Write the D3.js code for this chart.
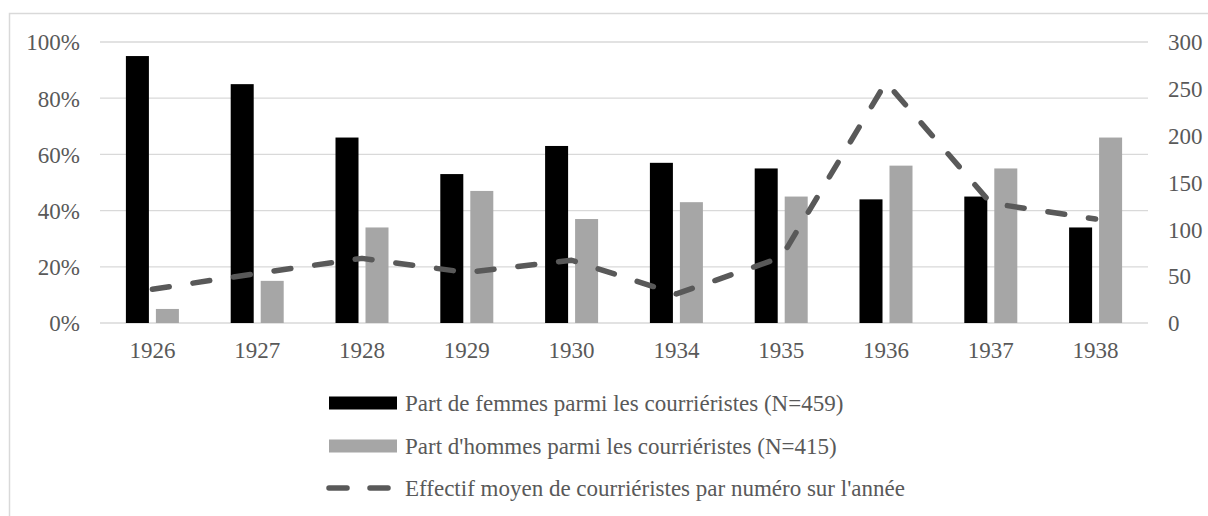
<!DOCTYPE html>
<html>
<head>
<meta charset="utf-8">
<script src="https://cdn.jsdelivr.net/npm/d3@7"></script>
<style>
  html, body { margin: 0; padding: 0; background: #fff; }
  svg { display: block; }
</style>
</head>
<body>
<svg id="chart" width="1208" height="516"></svg>
<script>
const years = ['1926', '1927', '1928', '1929', '1930', '1934', '1935', '1936', '1937', '1938'];
const femmes = [95, 85, 66, 53, 63, 57, 55, 44, 45, 34];
const hommes = [5, 15, 34, 47, 37, 43, 45, 56, 55, 66];
const effectif = [36, 53, 69, 54, 67, 31, 70, 257, 128, 111];
const leftTicks = [0, 20, 40, 60, 80, 100];
const rightTicks = [0, 50, 100, 150, 200, 250, 300];
const seriesNames = [
    'Part de femmes parmi les courriéristes (N=459)',
    'Part d\'hommes parmi les courriéristes (N=415)',
    'Effectif moyen de courriéristes par numéro sur l\'année'
];

const plot = { left: 100, right: 1148, top: 42, bottom: 323 };
const fontSize = 23;
const fontFamily = '"Liberation Serif", "DejaVu Serif", serif';
const textColor = '#595959';

const svg = d3.select('#chart')
    .attr('font-family', fontFamily);

// outer frame of the chart area
svg.append('rect')
    .attr('x', 9.5)
    .attr('y', 13.5)
    .attr('width', 1220)
    .attr('height', 520)
    .attr('fill', 'none')
    .attr('stroke', '#d9d9d9')
    .attr('stroke-width', 1.5);

const x = d3.scaleBand()
    .domain(years)
    .range([plot.left, plot.right]);

const groupWidth = 53;
const xInner = d3.scaleBand()
    .domain(['f', 'h'])
    .range([0, groupWidth])
    .paddingInner(0.233);

const yLeft = d3.scaleLinear().domain([0, 100]).range([plot.bottom, plot.top]);
const yRight = d3.scaleLinear().domain([0, 300]).range([plot.bottom, plot.top]);

// gridlines
svg.append('g')
    .attr('class', 'grid')
    .selectAll('line')
    .data(leftTicks)
    .join('line')
    .attr('x1', plot.left)
    .attr('x2', plot.right)
    .attr('y1', d => yLeft(d))
    .attr('y2', d => yLeft(d))
    .attr('stroke', '#d9d9d9')
    .attr('stroke-width', 1.3);

function styleAxis(g) {
    g.attr('font-family', fontFamily).attr('font-size', fontSize);
    g.select('.domain').remove();
    g.selectAll('text')
        .attr('fill', textColor)
        .attr('dy', '0.34em');
}

// left axis (percent)
svg.append('g')
    .attr('transform', 'translate(80,0)')
    .call(d3.axisLeft(yLeft)
        .tickValues(leftTicks)
        .tickFormat(d => `${d}%`)
        .tickSize(0)
        .tickPadding(0))
    .call(styleAxis);

// right axis (effectif)
svg.append('g')
    .attr('transform', 'translate(1168,0)')
    .call(d3.axisRight(yRight)
        .tickValues(rightTicks)
        .tickSize(0)
        .tickPadding(0))
    .call(styleAxis);

// bottom axis (years)
svg.append('g')
    .attr('transform', `translate(0,${plot.bottom + 27})`)
    .call(d3.axisBottom(x).tickSize(0).tickPadding(0))
    .call(styleAxis);

// bars
const groups = svg.append('g')
    .attr('class', 'bars')
    .selectAll('g')
    .data(years)
    .join('g')
    .attr('transform', d => `translate(${x(d) + (x.bandwidth() - groupWidth) / 2},0)`);

groups.append('rect')
    .attr('x', xInner('f'))
    .attr('width', xInner.bandwidth())
    .attr('y', (d, i) => yLeft(femmes[i]))
    .attr('height', (d, i) => yLeft(0) - yLeft(femmes[i]))
    .attr('fill', '#000');

groups.append('rect')
    .attr('x', xInner('h'))
    .attr('width', xInner.bandwidth())
    .attr('y', (d, i) => yLeft(hommes[i]))
    .attr('height', (d, i) => yLeft(0) - yLeft(hommes[i]))
    .attr('fill', '#a6a6a6');

// dashed line on the right axis
const line = d3.line()
    .x((d, i) => x(years[i]) + x.bandwidth() / 2)
    .y(d => yRight(d));

svg.append('path')
    .datum(effectif)
    .attr('d', line)
    .attr('fill', 'none')
    .attr('stroke', '#595959')
    .attr('stroke-width', 5.5)
    .attr('stroke-linecap', 'round')
    .attr('stroke-linejoin', 'round')
    .attr('stroke-dasharray', '17,24');

// legend
const legend = svg.append('g').attr('class', 'legend');
const rowY = [403, 446, 488];

legend.append('rect')
    .attr('x', 329).attr('y', rowY[0] - 6.5)
    .attr('width', 68).attr('height', 13)
    .attr('fill', '#000');
legend.append('rect')
    .attr('x', 329).attr('y', rowY[1] - 6.5)
    .attr('width', 68).attr('height', 13)
    .attr('fill', '#a6a6a6');
legend.append('line')
    .attr('x1', 329).attr('x2', 389)
    .attr('y1', rowY[2]).attr('y2', rowY[2])
    .attr('stroke', '#595959')
    .attr('stroke-width', 5.5)
    .attr('stroke-linecap', 'round')
    .attr('stroke-dasharray', '18,23');

legend.selectAll('text')
    .data(seriesNames)
    .join('text')
    .attr('x', 405)
    .attr('y', (d, i) => rowY[i])
    .attr('dy', '0.34em')
    .attr('font-size', fontSize)
    .attr('fill', textColor)
    .text(d => d);
</script>
</body>
</html>
